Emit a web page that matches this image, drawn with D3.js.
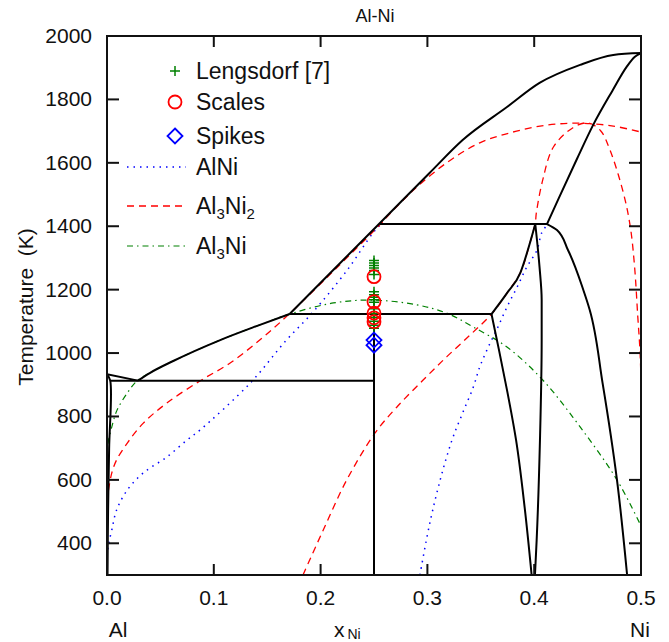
<!DOCTYPE html>
<html><head><meta charset="utf-8">
<script src="https://cdn.jsdelivr.net/npm/d3@7"></script>
<style>body{margin:0;background:#fff}svg{display:block}text{font-family:"Liberation Sans",Arial,sans-serif;fill:#111;white-space:pre}</style>
</head><body><svg id="c" width="669" height="642"></svg>
<script>
// ---- data ----
const xTicks = [0.0, 0.1, 0.2, 0.3, 0.4, 0.5];
const yTicks = [400, 600, 800, 1000, 1200, 1400, 1600, 1800, 2000];

// stable phase diagram (black)
const liqAl = [[0,933],[0.029,913]];
const liq1 = [[0.029,913],[0.04,937],[0.062,975],[0.106,1041],[0.14,1085],[0.171,1123]];
const liq2 = [[0.171,1123],[0.213,1266],[0.2556,1410],[0.302,1568],[0.333,1672],[0.3745,1776],[0.405,1852],[0.443,1909],[0.474,1940],[0.5,1946]];
const alSolvus = [[0,933],[0.003,913],[0.002,700],[0.001,500],[0.0005,300]];
const eutectic = [[0.003,913],[0.25,913]];
const al3niLine = [[0.25,300],[0.25,1123]];
const peri1 = [[0.171,1123],[0.36,1123]];
const peri2 = [[0.2556,1407],[0.412,1407]];
const al3ni2LeftUp = [[0.36,1123],[0.3745,1189],[0.387,1253],[0.396,1347],[0.401,1407]];
const al3ni2LeftLow = [[0.36,1123],[0.367,1010],[0.3745,884],[0.383,726],[0.391,515],[0.3976,300]];
const al3ni2Right = [[0.401,1407],[0.405,1271],[0.407,1167],[0.407,1041],[0.4054,726],[0.4023,410],[0.4007,300]];
const alNiLeft = [[0.412,1407],[0.4213,1388],[0.4316,1325],[0.446,1199],[0.452,1136],[0.464,906],[0.4775,600],[0.487,300]];
const alNiSolidus = [[0.412,1407],[0.4223,1483],[0.44,1612],[0.455,1718],[0.473,1826],[0.487,1905],[0.494,1934],[0.5,1946]];

// metastable curves
const alNiLeftCurve = [[0,320],[0,347],[0.001,388],[0.0045,442],[0.009,505],[0.019,568],[0.034,622],[0.056,672],[0.075,726],[0.087,757],[0.134,905],[0.168,1041],[0.192,1126],[0.225,1262],[0.249,1379],[0.256,1405]];
const alNiRightCurve = [[0.293,300],[0.2996,420],[0.305,505],[0.312,600],[0.318,672],[0.324,735],[0.333,811],[0.343,893],[0.349,956],[0.357,1019],[0.366,1082],[0.3745,1145],[0.384,1208],[0.393,1271],[0.4026,1325],[0.407,1379],[0.412,1404]];
const al3ni2Liq = [[0,530],[0.001,559],[0.0045,622],[0.009,663],[0.019,716],[0.034,779],[0.0559,842],[0.087,912],[0.115,968],[0.143,1041],[0.168,1115],[0.213,1262],[0.2556,1405],[0.262,1429],[0.287,1514],[0.318,1600],[0.349,1663],[0.38,1697],[0.412,1719],[0.443,1725],[0.474,1716],[0.5,1697]];
const al3ni2Sol = [[0.1835,300],[0.2025,442],[0.2245,600],[0.251,748],[0.2715,830],[0.296,915],[0.318,988],[0.34,1057],[0.36,1123],[0.3745,1189],[0.387,1253],[0.396,1347],[0.401,1410],[0.402,1442],[0.408,1546],[0.418,1650],[0.436,1710],[0.45,1726],[0.462,1702],[0.471,1640],[0.4835,1505],[0.49,1398],[0.494,1272],[0.497,1114],[0.499,1010],[0.5,900],[0.5,300]];
const al3niCurve = [[0,665],[0.001,716],[0.0045,767],[0.0094,820],[0.019,874],[0.028,912],[0.04,937],[0.062,975],[0.106,1041],[0.14,1085],[0.171,1123],[0.212,1158],[0.249,1167],[0.29,1152],[0.318,1126],[0.343,1082],[0.3745,1019],[0.408,915],[0.443,767],[0.4775,600],[0.5,455]];

// experiments at x = 0.25
const lengsdorfT = [1292,1284,1276,1268,1260,1248,1193,1184,1176,1168,1160,1140,1125,1112,1100,1088,1078];
const scalesT = [1241,1162,1126,1111,1099];
const spikesT = [1041,1025];
const expX = 0.25;

// ---- drawing ----
const svg = d3.select("#c");
const L = 107, R = 641, T = 36, B = 575;
const x = d3.scaleLinear().domain([0, 0.5]).range([L, R]);
const y = d3.scaleLinear().domain([300, 2000]).range([B, T]);
const mkLine = c => d3.line().x(d => x(d[0])).y(d => y(d[1])).curve(c);
const cr = d3.curveCatmullRom.alpha(0.5), mx = d3.curveMonotoneX, my = d3.curveMonotoneY;

svg.append("clipPath").attr("id","pc").append("rect").attr("x",L).attr("y",T).attr("width",R-L).attr("height",B-T);
const g = svg.append("g").attr("clip-path","url(#pc)");

function draw(data, color, width, dash, curve) {
  const p = g.append("path").attr("d", mkLine(curve || cr)(data)).attr("fill","none").attr("stroke",color).attr("stroke-width",width);
  if (dash) p.attr("stroke-dasharray", dash);
  return p;
}
const blueDot = "1.5 5", redDash = "7 5", greenDD = "6 4 1.5 4";
draw(alNiLeftCurve, "#0000ff", 1.5, blueDot);
draw(alNiRightCurve, "#0000ff", 1.5, blueDot);
draw(al3ni2Liq, "#ff0000", 1.3, redDash);
draw(al3ni2Sol, "#ff0000", 1.3, redDash);
draw(al3niCurve, "#008000", 1.2, greenDD);

draw(liqAl, "#000", 2, null, mx);
draw(liq1, "#000", 2, null, mx);
draw(liq2, "#000", 2, null, mx);
draw(alSolvus, "#000", 2, null, cr);
draw(eutectic, "#000", 2, null, mx);
draw(al3niLine, "#000", 2, null, my);
draw(peri1, "#000", 2, null, mx);
draw(peri2, "#000", 2, null, mx);
draw(al3ni2LeftUp, "#000", 2, null, mx);
draw(al3ni2LeftLow, "#000", 2, null, my);
draw(al3ni2Right, "#000", 2, null, my);
draw(alNiLeft, "#000", 2, null, my);
draw(alNiSolidus, "#000", 2, null, mx);

// markers
const mk = svg.append("g");
function plus(sel, cx, cy, s) {
  sel.append("path").attr("d", `M${cx-s},${cy}H${cx+s}M${cx},${cy-s}V${cy+s}`).attr("stroke","#008000").attr("stroke-width",1.5).attr("fill","none");
}
function circ(sel, cx, cy, r) {
  sel.append("circle").attr("cx",cx).attr("cy",cy).attr("r",r).attr("fill","none").attr("stroke","#ff0000").attr("stroke-width",1.8);
}
function diam(sel, cx, cy, s) {
  sel.append("path").attr("d", `M${cx},${cy-s}L${cx+s},${cy}L${cx},${cy+s}L${cx-s},${cy}Z`).attr("fill","none").attr("stroke","#0000ff").attr("stroke-width",1.8);
}
lengsdorfT.forEach(t => plus(mk, x(expX), y(t), 5));
scalesT.forEach(t => circ(mk, x(expX), y(t), 6.5));
spikesT.forEach(t => diam(mk, x(expX), y(t), 7.5));

// frame and ticks
const ax = svg.append("g").attr("stroke","#111").attr("stroke-width",2);
ax.append("rect").attr("x",L).attr("y",T).attr("width",R-L).attr("height",B-T).attr("fill","none");
xTicks.filter(v => v > 0 && v < 0.5).forEach(v => {
  ax.append("line").attr("x1",x(v)).attr("x2",x(v)).attr("y1",B).attr("y2",B-11);
  ax.append("line").attr("x1",x(v)).attr("x2",x(v)).attr("y1",T).attr("y2",T+11);
});
yTicks.filter(v => v < 2000).forEach(v => {
  ax.append("line").attr("x1",L).attr("x2",L+12).attr("y1",y(v)).attr("y2",y(v));
  ax.append("line").attr("x1",R).attr("x2",R-12).attr("y1",y(v)).attr("y2",y(v));
});
const tl = svg.append("g").style("font-size","21px");
xTicks.forEach(v => tl.append("text").attr("x",x(v)).attr("y",605).attr("text-anchor","middle").text(v.toFixed(1)));
yTicks.forEach(v => tl.append("text").attr("x",92).attr("y",y(v)+7).attr("text-anchor","end").text(v));

svg.append("text").attr("x",375).attr("y",22).attr("text-anchor","middle").style("font-size","18px").text("Al-Ni");
svg.append("text").attr("transform","translate(33,307) rotate(-90)").attr("text-anchor","middle").style("font-size","21px").text("Temperature  (K)");
svg.append("text").attr("x",118).attr("y",637).attr("text-anchor","middle").style("font-size","21px").text("Al");
svg.append("text").attr("x",640).attr("y",637).attr("text-anchor","middle").style("font-size","21px").text("Ni");
const xl = svg.append("text").attr("x",334).attr("y",637).style("font-size","21px");
xl.append("tspan").text("x");
xl.append("tspan").attr("dx",3).attr("dy",2).style("font-size","14px").text("Ni");

// legend
const lg = svg.append("g").style("font-size","23px");
plus(lg, 175, 71, 5);
circ(lg, 175, 102, 6.5);
diam(lg, 175, 136, 7.5);
lg.append("line").attr("x1",127).attr("x2",186).attr("y1",167).attr("y2",167).attr("stroke","#0000ff").attr("stroke-width",1.5).attr("stroke-dasharray",blueDot);
lg.append("line").attr("x1",127).attr("x2",186).attr("y1",206).attr("y2",206).attr("stroke","#ff0000").attr("stroke-width",1.3).attr("stroke-dasharray",redDash);
lg.append("line").attr("x1",127).attr("x2",186).attr("y1",246).attr("y2",246).attr("stroke","#008000").attr("stroke-width",1.2).attr("stroke-dasharray",greenDD);
lg.append("text").attr("x",196).attr("y",79).text("Lengsdorf [7]");
lg.append("text").attr("x",196).attr("y",110).text("Scales");
lg.append("text").attr("x",196).attr("y",144).text("Spikes");
lg.append("text").attr("x",196).attr("y",175).text("AlNi");
const t1 = lg.append("text").attr("x",196).attr("y",214);
t1.append("tspan").text("Al");
t1.append("tspan").attr("dy",5).style("font-size","15px").text("3");
t1.append("tspan").attr("dy",-5).text("Ni");
t1.append("tspan").attr("dy",5).style("font-size","15px").text("2");
const t2 = lg.append("text").attr("x",196).attr("y",254);
t2.append("tspan").text("Al");
t2.append("tspan").attr("dy",5).style("font-size","15px").text("3");
t2.append("tspan").attr("dy",-5).text("Ni");
</script></body></html>
